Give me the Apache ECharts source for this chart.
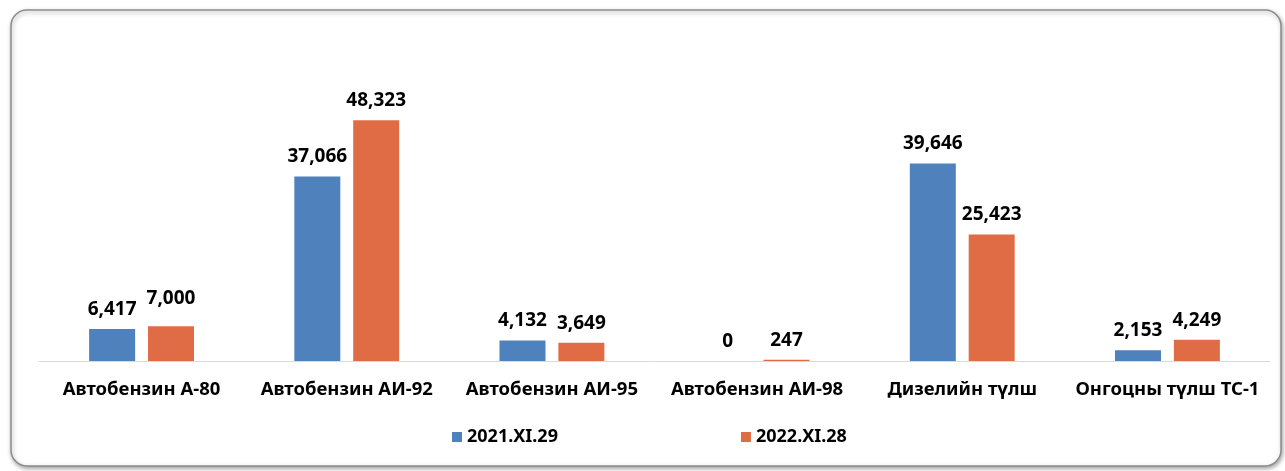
<!DOCTYPE html>
<html><head><meta charset="utf-8">
<script src="https://cdn.jsdelivr.net/npm/echarts@6/dist/echarts.min.js"></script>
<style>html,body{margin:0;padding:0;background:#fff;}#c{width:1285px;height:471px;}</style>
</head><body><div id="c"></div>
<script>
const categories = ['Автобензин А-80','Автобензин АИ-92','Автобензин АИ-95','Автобензин АИ-98','Дизелийн түлш','Онгоцны түлш ТС-1'];
const series2021 = [6417, 37066, 4132, 0, 39646, 2153];
const series2022 = [7000, 48323, 3649, 247, 25423, 4249];
const seriesNames = ['2021.XI.29','2022.XI.28'];

const chart = echarts.init(document.getElementById('c'), null, {renderer:'canvas'});
const labelStyle = {show:true, position:'top', distance:10, fontFamily:'Noto Sans', fontWeight:'bold', fontSize:19, color:'#000',
  formatter: p => p.value.toLocaleString('en-US')};
// first orange label sits higher in the reference
const data2022 = series2022.map((v, i) => i === 0 ? {value:v, label:{offset:[0,-8]}} : v);
chart.setOption({
  animation:false,
  graphic:[{type:'rect', shape:{x:11,y:10,width:1270,height:456,r:16}, z:-1,
    style:{fill:'#fff', stroke:'#8c8c8c', lineWidth:1.5, shadowBlur:4, shadowColor:'rgba(0,0,0,0.35)', shadowOffsetX:1, shadowOffsetY:2}}],
  grid:{left:39, right:15, top:112, bottom:110, containLabel:false},
  legend:{data:seriesNames, bottom:20, left:447, itemWidth:10, itemHeight:10, itemGap:183, icon:'rect',
    textStyle:{fontFamily:'Noto Sans', fontWeight:'bold', fontSize:18, color:'#000'}},
  xAxis:{type:'category', data:categories, axisTick:{show:false}, axisLine:{lineStyle:{color:'#d9d9d9', width:1}},
    axisLabel:{fontFamily:'Noto Sans', fontWeight:'bold', fontSize:18.5, color:'#000', margin:19, interval:0}},
  yAxis:{type:'value', min:0, max:50000, show:false, splitLine:{show:false}},
  series:[
    {name:seriesNames[0], type:'bar', data:series2021, barWidth:46, barGap:'28%', itemStyle:{color:'#4f81bd'}, label:labelStyle},
    {name:seriesNames[1], type:'bar', data:data2022, barWidth:46, itemStyle:{color:'#e06c45'}, label:labelStyle}
  ]
});
</script></body></html>
